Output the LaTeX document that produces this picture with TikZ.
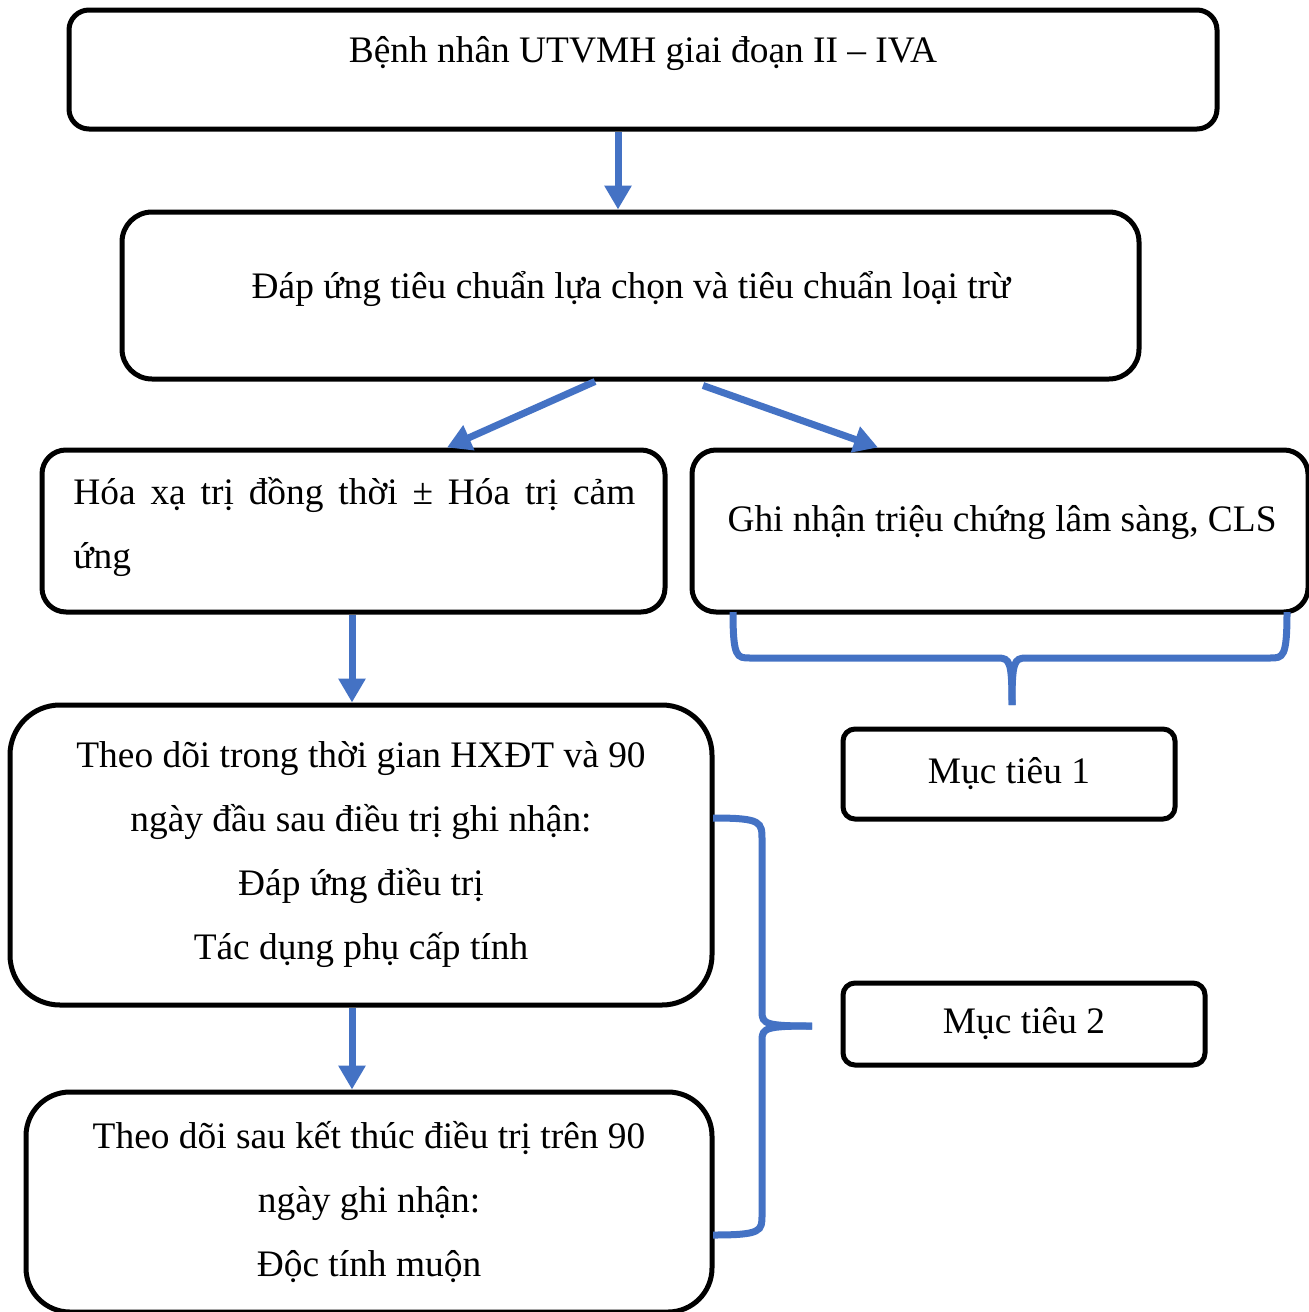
\documentclass[tikz,border=0pt]{standalone}
\usepackage{fontspec}
\setmainfont{Liberation Serif}
\usetikzlibrary{arrows.meta}
\definecolor{bl}{HTML}{4472C4}
\begin{document}
\begin{tikzpicture}[x=0.5pt,y=-0.5pt,
  box/.style={draw=black,line width=2.5pt,rounded corners=#1,inner sep=0pt,font=\fontsize{18.7}{32}\selectfont,align=center},
  box/.default=12pt,
  txt/.style={inner sep=0pt,font=\fontsize{18.7}{32}\selectfont,align=center},
  arr/.style={draw=bl,line width=3.5pt,-{Triangle[length=12pt,width=13pt]}},
  brace/.style={draw=bl,line width=3.5pt}]
\useasboundingbox (0,0) rectangle (1309,1312);
% boxes
\node[box=10pt,minimum width=574pt,minimum height=59.5pt] (b1) at (643,69.5) {};
\node[txt] (t1) at (643,54) {Bệnh nhân UTVMH giai đoạn II – IVA};
\node[box=15pt,minimum width=508.5pt,minimum height=83.5pt] (b2) at (630.5,295.5) {};
\node[txt] (t2) at (631,289) {Đáp ứng tiêu chuẩn lựa chọn và tiêu chuẩn loại trừ};
\node[box=12pt,minimum width=311.5pt,minimum height=81pt] (b3) at (353.5,531) {};
\node[txt,align=left,anchor=west] (t3) at (73,527) {\makebox[281pt][s]{Hóa xạ trị đồng thời ± Hóa trị cảm}\\ứng};
\node[box=12pt,minimum width=308pt,minimum height=81pt] (b4) at (1000,531) {};
\node[txt] (t4) at (1002,523) {Ghi nhận triệu chứng lâm sàng, CLS};
\node[box=25pt,minimum width=351pt,minimum height=150pt] (b5) at (361,855) {Theo dõi trong thời gian HXĐT và 90\\ngày đầu sau điều trị ghi nhận:\\Đáp ứng điều trị\\Tác dụng phụ cấp tính};
\node[box=22pt,minimum width=343pt,minimum height=110pt] (b6) at (369,1202) {Theo dõi sau kết thúc điều trị trên 90\\ngày ghi nhận:\\Độc tính muộn};
\node[box=6pt,minimum width=166pt,minimum height=45pt] (m1) at (1009,774) {Mục tiêu 1};
\node[box=6pt,minimum width=181pt,minimum height=41pt] (m2) at (1024,1024) {Mục tiêu 2};
% arrows
\draw[arr] ([xshift=-12.5pt]b1.south) -- ([xshift=-6.25pt]b2.north);
\draw[arr] ([xshift=-17.75pt]b2.south) -- ([xshift=46.75pt]b3.north);
\draw[arr] ([xshift=36.25pt,yshift=-2pt]b2.south) -- ([xshift=-61pt]b4.north);
\draw[arr] ([xshift=-0.75pt]b3.south) -- ([xshift=-0.75pt]b3.south |- b5.north);
\draw[arr] ([xshift=-4.5pt]b5.south) -- ([xshift=-4.5pt]b5.south |- b6.north);
% braces
\draw[brace] (733,612) .. controls (733,658) and (737,658) .. (750,658) -- (998,658)
  .. controls (1010,658) and (1012,662) .. (1012,705);
\draw[brace] (1287,612) .. controls (1287,658) and (1283,658) .. (1270,658) -- (1026,658)
  .. controls (1014,658) and (1012,662) .. (1012,705);
\draw[brace] (713,818) .. controls (762,818) and (762,822) .. (762,840) -- (762,1012)
  .. controls (762,1024) and (766,1026) .. (812,1026);
\draw[brace] (713,1235) .. controls (762,1235) and (762,1231) .. (762,1215) -- (762,1040)
  .. controls (762,1028) and (766,1026) .. (812,1026);
\end{tikzpicture}
\end{document}
